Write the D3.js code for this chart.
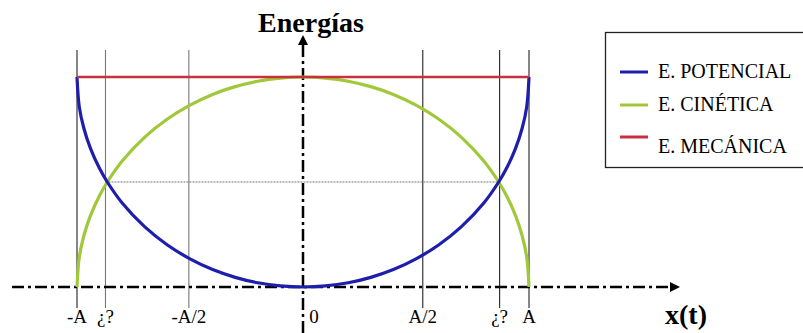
<!DOCTYPE html>
<html>
<head>
    <meta charset="UTF-8">
    <title>Energías</title>
    <script src="https://d3js.org/d3.v7.min.js"></script>
    <style>
        body { margin: 0; background: #fff; }
    </style>
</head>
<body>
<script>
    // posiciones en unidades de A, energías en unidades de E total
    const xPos = [-1, -0.99, -0.97, -0.94, -0.9, -0.866, -0.8, -0.7, -0.6, -0.5, -0.4, -0.3, -0.2, -0.1, 0,
        0.1, 0.2, 0.3, 0.4, 0.5, 0.6, 0.7, 0.8, 0.866, 0.9, 0.94, 0.97, 0.99, 1];
    const eCinetica = [0, 0.141, 0.243, 0.341, 0.436, 0.5, 0.6, 0.714, 0.8, 0.866, 0.917, 0.954, 0.98, 0.995, 1,
        0.995, 0.98, 0.954, 0.917, 0.866, 0.8, 0.714, 0.6, 0.5, 0.436, 0.341, 0.243, 0.141, 0];
    const ePotencial = [1, 0.859, 0.757, 0.659, 0.564, 0.5, 0.4, 0.286, 0.2, 0.134, 0.083, 0.046, 0.02, 0.005, 0,
        0.005, 0.02, 0.046, 0.083, 0.134, 0.2, 0.286, 0.4, 0.5, 0.564, 0.659, 0.757, 0.859, 1];
    const eMecanica = 1;

    // líneas verticales (posición)
    const marcas = [-1, -0.874, -0.505, 0.53, 0.87, 1];
    const etiquetas = ["-A", "¿?", "-A/2", "A/2", "¿?", "A"];
    const leyenda = [
        {nombre: "E. POTENCIAL", color: "#1e1eac"},
        {nombre: "E. CINÉTICA", color: "#a0c83a"},
        {nombre: "E. MECÁNICA", color: "#c8303a"}
    ];

    const W = 803, H = 333;
    const serif = '"Times New Roman", "Liberation Serif", Times, serif';
    const x = d3.scaleLinear().domain([-1, 1]).range([77, 529]);
    const y = d3.scaleLinear().domain([0, 1]).range([287, 77]);

    const svg = d3.select("body").append("svg")
        .attr("width", W).attr("height", H);

    // flechas
    svg.append("defs").append("marker")
        .attr("id", "flecha")
        .attr("viewBox", "0 0 10 10")
        .attr("refX", 8).attr("refY", 5)
        .attr("markerWidth", 4).attr("markerHeight", 4)
        .attr("orient", "auto")
        .append("path").attr("d", "M0,0 L10,5 L0,10 z").attr("fill", "#000");

    // líneas verticales de referencia
    svg.selectAll("line.marca").data(marcas).enter().append("line")
        .attr("class", "marca")
        .attr("x1", d => x(d)).attr("x2", d => x(d))
        .attr("y1", 50).attr("y2", 308)
        .attr("stroke", (d, i) => i === 1 || i === 2 ? "#777" : "#222")
        .attr("stroke-width", 1.1);

    // línea horizontal punteada en la intersección
    svg.append("line")
        .attr("x1", x(marcas[1])).attr("x2", x(marcas[4]))
        .attr("y1", y(0.5)).attr("y2", y(0.5))
        .attr("stroke", "#777").attr("stroke-width", 1.2)
        .attr("stroke-dasharray", "2,1");

    // ejes
    svg.append("line")
        .attr("x1", 12).attr("x2", 678)
        .attr("y1", y(0)).attr("y2", y(0))
        .attr("stroke", "#000").attr("stroke-width", 2.5)
        .attr("stroke-dasharray", "12,4,3,4")
        .attr("marker-end", "url(#flecha)");
    svg.append("line")
        .attr("x1", x(0)).attr("x2", x(0))
        .attr("y1", H).attr("y2", 37)
        .attr("stroke", "#000").attr("stroke-width", 2.5)
        .attr("stroke-dasharray", "12,4,3,4")
        .attr("marker-end", "url(#flecha)");

    const pts = (vals) => xPos.map((d, i) => [d, vals[i]]);
    const linea = d3.line()
        .x(d => x(d[0])).y(d => y(d[1]))
        .curve(d3.curveCatmullRom.alpha(0.5));

    svg.append("path").datum(pts(eCinetica))
        .attr("fill", "none").attr("stroke", leyenda[1].color)
        .attr("stroke-width", 3.2).attr("d", linea);

    svg.append("path").datum(pts(ePotencial))
        .attr("fill", "none").attr("stroke", leyenda[0].color)
        .attr("stroke-width", 3.2).attr("d", linea);

    svg.append("line")
        .attr("x1", x(-1)).attr("x2", x(1))
        .attr("y1", y(eMecanica)).attr("y2", y(eMecanica))
        .attr("stroke", leyenda[2].color).attr("stroke-width", 2.6);

    // etiquetas del eje x
    svg.selectAll("text.etq").data(etiquetas).enter().append("text")
        .attr("class", "etq")
        .attr("x", (d, i) => x(marcas[i]))
        .attr("y", 323)
        .attr("text-anchor", "middle")
        .style("font-family", serif)
        .style("font-size", "19px")
        .text(d => d);
    svg.append("text")
        .attr("x", x(0) + 11).attr("y", 323)
        .attr("text-anchor", "middle")
        .style("font-family", serif)
        .style("font-size", "19px")
        .text("0");

    svg.append("text")
        .attr("x", 665).attr("y", 324)
        .style("font-family", serif)
        .style("font-size", "28px").style("font-weight", "bold")
        .text("x(t)");

    svg.append("text")
        .attr("x", 311).attr("y", 32)
        .attr("text-anchor", "middle")
        .style("font-family", serif)
        .style("font-size", "28px").style("font-weight", "bold")
        .text("Energías");

    // leyenda
    const ley = svg.append("g");
    ley.append("rect")
        .attr("x", 605.5).attr("y", 32.5)
        .attr("width", 210).attr("height", 135)
        .attr("fill", "#fff").attr("stroke", "#222").attr("stroke-width", 1.3);
    const filas = ley.selectAll("g.fila").data(leyenda).enter().append("g")
        .attr("class", "fila")
        .attr("transform", (d, i) => `translate(0,${[72, 105, 137][i]})`);
    filas.append("line")
        .attr("x1", 620).attr("x2", 648).attr("y1", 0).attr("y2", 0)
        .attr("stroke", d => d.color).attr("stroke-width", 3);
    filas.append("text")
        .attr("x", 658)
        .attr("y", (d, i) => i === 2 ? 16 : 6)
        .style("font-family", serif)
        .style("font-size", "20px")
        .text(d => d.nombre);
</script>
</body>
</html>
